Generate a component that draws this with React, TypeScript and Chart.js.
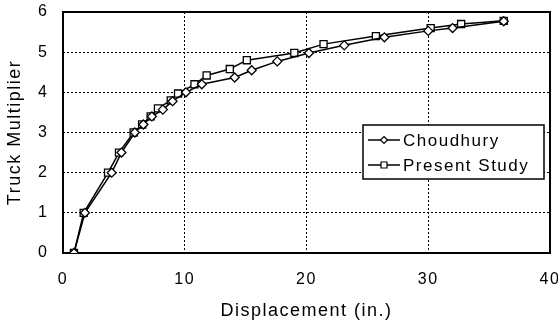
import { useEffect, useRef } from "react";
import { Chart, registerables } from "chart.js";

Chart.register(...registerables);

const seriesNames = ["Choudhury", "Present Study"];
const choudhuryX = [0.9, 1.8, 4.0, 4.8, 5.9, 6.6, 7.3, 8.2, 9.0, 10.1, 11.4, 14.1, 15.5, 17.6, 20.2, 23.1, 26.4, 30.0, 32.0, 36.2];
const choudhuryY = [0, 1, 2, 2.5, 3, 3.2, 3.4, 3.57, 3.78, 4.0, 4.2, 4.37, 4.55, 4.77, 4.98, 5.17, 5.37, 5.53, 5.6, 5.77];
const presentX = [0.9, 1.7, 3.7, 4.6, 5.8, 6.5, 7.2, 7.8, 8.85, 9.45, 10.8, 11.8, 13.7, 15.1, 19.0, 21.4, 25.7, 30.2, 32.7, 36.2];
const presentY = [0, 1, 2, 2.5, 3, 3.2, 3.4, 3.6, 3.8, 3.97, 4.2, 4.42, 4.58, 4.8, 4.98, 5.2, 5.4, 5.6, 5.7, 5.78];
const xTicks = [0, 10, 20, 30, 40];
const yTicks = [0, 1, 2, 3, 4, 5, 6];
const xTitle = "Displacement (in.)";
const yTitle = "Truck Multiplier";

const FONT = "'Liberation Sans', Arial, sans-serif";
const LS = "1.5px";

const spacingPlugin = {
  id: "spacing",
  beforeDraw(chart: any) {
    (chart.ctx as any).letterSpacing = LS;
  },
};

const framePlugin = {
  id: "frame",
  beforeDatasetsDraw(chart: any) {
    const { ctx, chartArea } = chart;
    ctx.save();
    ctx.strokeStyle = "#000";
    ctx.lineWidth = 2;
    ctx.setLineDash([]);
    ctx.strokeRect(chartArea.left, chartArea.top, chartArea.right - chartArea.left, chartArea.bottom - chartArea.top);
    ctx.restore();
  },
};

const legendPlugin = {
  id: "boxLegend",
  afterDraw(chart: any) {
    const { ctx, chartArea } = chart;
    const bx = chartArea.left + 300;
    const by = chartArea.top + 113;
    const bw = 181;
    const bh = 54;
    ctx.save();
    ctx.setLineDash([]);
    ctx.fillStyle = "#fff";
    ctx.fillRect(bx, by, bw, bh);
    ctx.strokeStyle = "#000";
    ctx.lineWidth = 1.5;
    ctx.strokeRect(bx, by, bw, bh);
    ctx.font = `17px ${FONT}`;
    (ctx as any).letterSpacing = LS;
    ctx.textBaseline = "middle";
    ctx.textAlign = "left";
    seriesNames.forEach((name, i) => {
      const cy = by + 15 + i * 25;
      ctx.strokeStyle = "#000";
      ctx.lineWidth = 1.5;
      ctx.beginPath();
      ctx.moveTo(bx + 5, cy);
      ctx.lineTo(bx + 37, cy);
      ctx.stroke();
      const mx = bx + 21;
      ctx.fillStyle = "#fff";
      ctx.lineWidth = 1.2;
      ctx.beginPath();
      if (i === 0) {
        ctx.moveTo(mx, cy - 3.5);
        ctx.lineTo(mx + 3.5, cy);
        ctx.lineTo(mx, cy + 3.5);
        ctx.lineTo(mx - 3.5, cy);
        ctx.closePath();
      } else {
        ctx.rect(mx - 3, cy - 3, 6, 6);
      }
      ctx.fill();
      ctx.stroke();
      ctx.fillStyle = "#000";
      ctx.fillText(name, bx + 40, cy + 1);
    });
    ctx.restore();
  },
};

export default function App() {
  const ref = useRef<HTMLCanvasElement | null>(null);

  useEffect(() => {
    document.body.style.margin = "0";
    const canvas = ref.current;
    if (!canvas) return;
    const chart = new Chart(canvas, {
      type: "scatter",
      data: {
        datasets: [
          {
            label: seriesNames[0],
            data: choudhuryX.map((x, i) => ({ x, y: choudhuryY[i] })),
            showLine: true,
            borderColor: "#000",
            borderWidth: 1.5,
            backgroundColor: "#fff",
            pointStyle: "rectRot",
            pointRadius: 4.5,
            pointBorderWidth: 1.3,
            pointBackgroundColor: "#fff",
            pointBorderColor: "#000",
          },
          {
            label: seriesNames[1],
            data: presentX.map((x, i) => ({ x, y: presentY[i] })),
            showLine: true,
            borderColor: "#000",
            borderWidth: 1.5,
            backgroundColor: "#fff",
            pointStyle: "rect",
            pointRadius: 5,
            pointBorderWidth: 1.3,
            pointBackgroundColor: "#fff",
            pointBorderColor: "#000",
          },
        ],
      },
      options: {
        animation: false,
        responsive: false,
        layout: { padding: { top: 12, right: 8, left: 0, bottom: 0 } },
        plugins: {
          legend: { display: false },
          tooltip: { enabled: false },
        },
        scales: {
          x: {
            type: "linear",
            min: 0,
            max: 40,
            afterFit(scale: any) {
              scale.height = 71;
              scale.paddingLeft = 0;
              scale.paddingRight = 0;
            },
            afterBuildTicks(scale: any) {
              scale.ticks = xTicks.map((v) => ({ value: v }));
            },
            ticks: {
              color: "#000",
              padding: 17,
              font: { family: FONT, size: 16 },
              maxRotation: 0,
            },
            grid: {
              color: "#000",
              lineWidth: 1,
              drawTicks: false,
            },
            border: { display: false, dash: [2, 2] },
            title: {
              display: true,
              text: xTitle,
              color: "#000",
              font: { family: FONT, size: 18 },
              padding: { top: 0, bottom: 2 },
            },
          },
          y: {
            type: "linear",
            min: 0,
            max: 6,
            afterFit(scale: any) {
              scale.width = 63;
              scale.paddingTop = 0;
              scale.paddingBottom = 0;
            },
            afterBuildTicks(scale: any) {
              scale.ticks = yTicks.map((v) => ({ value: v }));
            },
            ticks: {
              color: "#000",
              padding: 14.5,
              font: { family: FONT, size: 16 },
            },
            grid: {
              color: "#000",
              lineWidth: 1,
              drawTicks: false,
            },
            border: { display: false, dash: [2, 2] },
            title: {
              display: true,
              text: yTitle,
              color: "#000",
              font: { family: FONT, size: 18 },
              padding: { top: 4, bottom: 0 },
            },
          },
        },
      },
      plugins: [spacingPlugin, framePlugin, legendPlugin],
    });
    return () => chart.destroy();
  }, []);

  return (
    <div style={{ width: 558, height: 324 }}>
      <canvas ref={ref} width={558} height={324} style={{ display: "block" }} />
    </div>
  );
}
